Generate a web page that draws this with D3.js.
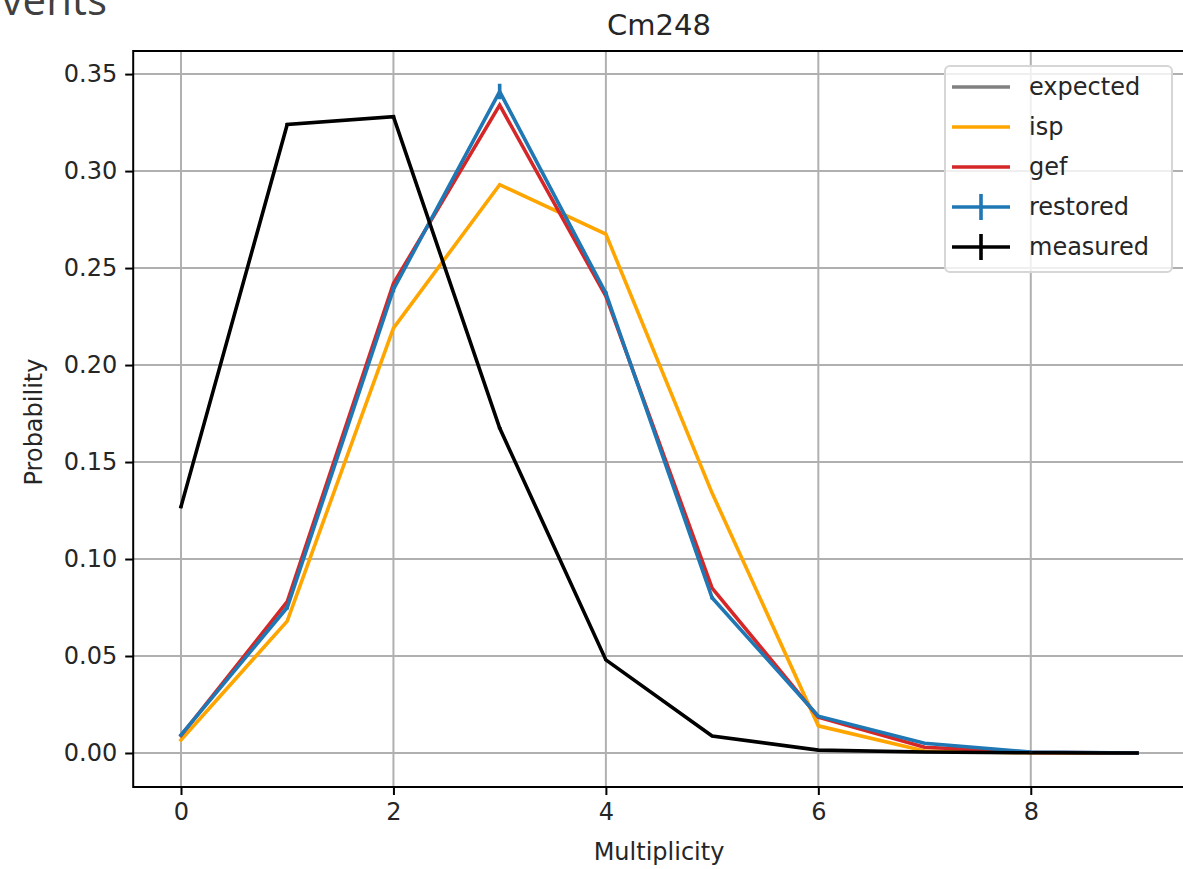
<!DOCTYPE html>
<html>
<head>
<meta charset="utf-8">
<script src="https://cdn.jsdelivr.net/npm/d3@7"></script>
<style>
  html, body { margin: 0; padding: 0; background: #fff; }
  svg { display: block; font-family: "DejaVu Sans", sans-serif; }
</style>
</head>
<body>
<svg id="chart" width="1183" height="869"></svg>
<script>
// ---- data ----
const multiplicity = [0, 1, 2, 3, 4, 5, 6, 7, 8, 9];
const expected = [];  // hidden beneath the other curves in the reference
const isp      = [0.0067, 0.068, 0.219, 0.293, 0.2675, 0.134, 0.014, 0.001, 0.0001, 0.0];
const gef      = [0.009, 0.078, 0.242, 0.334, 0.2355, 0.085, 0.0185, 0.003, 0.0003, 0.0];
const restored = [0.0093, 0.075, 0.239, 0.341, 0.237, 0.080, 0.019, 0.005, 0.0005, 0.0];
const restoredErr = [0.0005, 0.001, 0.0015, 0.004, 0.001, 0.0008, 0.0005, 0.0003, 0.0001, 0.0];
const measured = [0.127, 0.324, 0.328, 0.1675, 0.048, 0.0088, 0.0015, 0.0005, 0.0001, 0.0];
const measuredErr = [0.0005, 0.0008, 0.0008, 0.0006, 0.0003, 0.0001, 0.0, 0.0, 0.0, 0.0];
const xTicks = [0, 2, 4, 6, 8];
const yTicks = [0.00, 0.05, 0.10, 0.15, 0.20, 0.25, 0.30, 0.35];
const seriesNames = ["expected", "isp", "gef", "restored", "measured"];
const seriesColors = ["#808080", "#ffa500", "#d62728", "#1f77b4", "#000000"];

(function () {
const svg = d3.select("#chart");
const pL = 133.2, pR = 1184.8, pT = 51, pB = 787;

const x = d3.scaleLinear().domain([-0.45, 9.45]).range([pL, pR]);
const y = d3.scaleLinear().domain([-0.01753, 0.3619]).range([pB, pT]);

// stray cropped heading at the top-left (cut off in the reference too)
svg.append("text")
  .attr("x", -22).attr("y", 15)
  .attr("font-family", "'Open Sans', sans-serif")
  .attr("font-size", 42)
  .attr("fill", "#404040")
  .text("events");

// clip
svg.append("defs").append("clipPath").attr("id", "clip")
  .append("rect").attr("x", pL).attr("y", pT)
  .attr("width", pR - pL).attr("height", pB - pT);

// grid
const grid = svg.append("g");
grid.selectAll(".gx").data(xTicks).join("line")
  .attr("x1", d => x(d)).attr("x2", d => x(d))
  .attr("y1", pT).attr("y2", pB)
  .attr("stroke", "#b0b0b0").attr("stroke-width", 2);
grid.selectAll(".gy").data(yTicks).join("line")
  .attr("x1", pL).attr("x2", pR)
  .attr("y1", d => y(d)).attr("y2", d => y(d))
  .attr("stroke", "#b0b0b0").attr("stroke-width", 2);

// lines
const line = d3.line().x((d, i) => x(multiplicity[i])).y(d => y(d));
const plot = svg.append("g").attr("clip-path", "url(#clip)");
const allSeries = [expected, isp, gef, restored, measured];
allSeries.forEach((s, k) => {
  if (!s.length) return;
  plot.append("path").datum(s)
    .attr("d", line)
    .attr("fill", "none")
    .attr("stroke", seriesColors[k])
    .attr("stroke-width", 3.6)
    .attr("stroke-linejoin", "miter")
    .attr("stroke-linecap", "square");
});
// error bars
[[restored, restoredErr, seriesColors[3]], [measured, measuredErr, seriesColors[4]]].forEach(([vals, errs, c]) => {
  plot.selectAll(null).data(vals).join("line")
    .attr("x1", (d, i) => x(multiplicity[i])).attr("x2", (d, i) => x(multiplicity[i]))
    .attr("y1", (d, i) => y(d - errs[i])).attr("y2", (d, i) => y(d + errs[i]))
    .attr("stroke", c).attr("stroke-width", 3.6);
});

// axes
const xAxis = d3.axisBottom(x).tickValues(xTicks).tickFormat(d3.format("d")).tickSize(8).tickPadding(8);
const yAxis = d3.axisLeft(y).tickValues(yTicks).tickFormat(d3.format(".2f")).tickSize(8).tickPadding(8);
const gx = svg.append("g").attr("transform", `translate(0,${pB})`).call(xAxis);
const gy = svg.append("g").attr("transform", `translate(${pL},0)`).call(yAxis);
[gx, gy].forEach(g => {
  g.select(".domain").remove();
  g.selectAll(".tick line").attr("stroke", "#000").attr("stroke-width", 2);
  g.selectAll(".tick text").attr("font-size", 24).attr("fill", "#262626")
    .attr("font-family", "'DejaVu Sans', sans-serif");
});
gx.selectAll(".tick text").attr("dy", "0.71em");

// spines
svg.append("rect").attr("x", pL).attr("y", pT)
  .attr("width", pR - pL).attr("height", pB - pT)
  .attr("fill", "none").attr("stroke", "#000").attr("stroke-width", 2);

// labels
svg.append("text").attr("x", (pL + pR) / 2).attr("y", 35)
  .attr("text-anchor", "middle").attr("font-size", 29).attr("fill", "#262626")
  .text("Cm248");
svg.append("text").attr("x", (pL + pR) / 2).attr("y", 860)
  .attr("text-anchor", "middle").attr("font-size", 24).attr("fill", "#262626")
  .text("Multiplicity");
svg.append("text").attr("transform", "translate(42,422) rotate(-90)")
  .attr("text-anchor", "middle").attr("font-size", 24).attr("fill", "#262626")
  .text("Probability");

// legend
const lg = svg.append("g");
lg.append("rect").attr("x", 945).attr("y", 66).attr("width", 227).attr("height", 206)
  .attr("rx", 5).attr("fill", "#fff").attr("fill-opacity", 0.8)
  .attr("stroke", "#d6d6d6").attr("stroke-width", 2);
seriesNames.forEach((name, k) => {
  const cy = 87 + k * 40;
  lg.append("line").attr("x1", 952).attr("x2", 1010).attr("y1", cy).attr("y2", cy)
    .attr("stroke", seriesColors[k]).attr("stroke-width", 3.6);
  if (k >= 3) {
    lg.append("line").attr("x1", 981).attr("x2", 981).attr("y1", cy - 13).attr("y2", cy + 13)
      .attr("stroke", seriesColors[k]).attr("stroke-width", 3.6);
  }
  lg.append("text").attr("x", 1029).attr("y", cy + 8)
    .attr("font-size", 24).attr("fill", "#262626").text(name);
});
})();
</script>
</body>
</html>
